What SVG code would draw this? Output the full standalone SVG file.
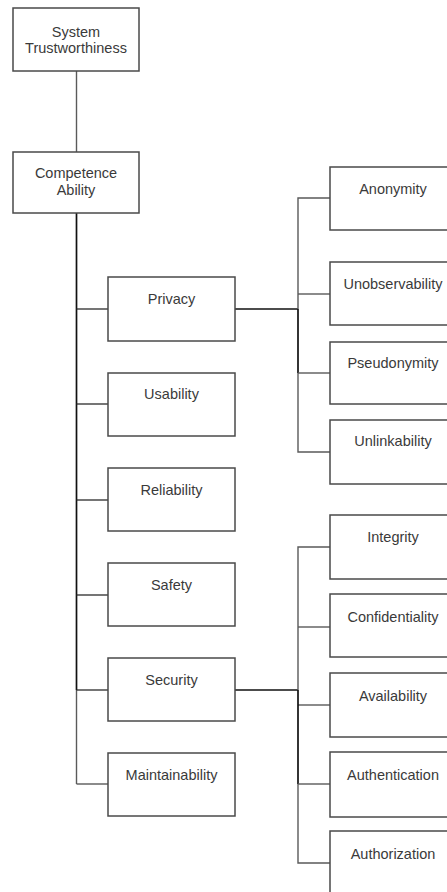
<svg xmlns="http://www.w3.org/2000/svg" width="447" height="892" viewBox="0 0 447 892">
<style>
.box{fill:#fff;stroke:#4a4a4a;stroke-width:1.5}
.t{font-family:"Liberation Sans",Arial,sans-serif;font-size:14.5px;fill:#3a3a3a;text-anchor:middle}
.c{fill:none;stroke:#5a5a5a;stroke-width:1.4}
.d{fill:none;stroke:#2a2a2a;stroke-width:1.3}
.h{fill:none;stroke:#111;stroke-width:1.7}
</style>
<rect width="447" height="892" fill="#fff"/>
<g id="connectors">
<line class="c" x1="76.5" y1="71" x2="76.5" y2="152"/>
<line class="c" x1="76.5" y1="690" x2="76.5" y2="784"/>
<line class="h" x1="76.5" y1="213" x2="76.5" y2="690"/>
<line class="d" x1="76.5" y1="309" x2="108" y2="309"/>
<line class="d" x1="76.5" y1="404" x2="108" y2="404"/>
<line class="d" x1="76.5" y1="500" x2="108" y2="500"/>
<line class="d" x1="76.5" y1="595" x2="108" y2="595"/>
<line class="d" x1="76.5" y1="690" x2="108" y2="690"/>
<line class="c" x1="76.5" y1="784" x2="108" y2="784"/>
<line class="h" x1="235" y1="309" x2="298" y2="309"/>
<polyline class="c" points="330,198 298,198 298,309"/>
<polyline class="c" points="330,452 298,452 298,373"/>
<line class="h" x1="298" y1="309" x2="298" y2="373"/>
<line class="c" x1="298" y1="294" x2="330" y2="294"/>
<line class="c" x1="298" y1="373" x2="330" y2="373"/>
<line class="h" x1="235" y1="690" x2="298" y2="690"/>
<polyline class="c" points="330,547 298,547 298,690"/>
<line class="c" x1="298" y1="627" x2="330" y2="627"/>
<line class="c" x1="298" y1="705" x2="330" y2="705"/>
<line class="h" x1="298" y1="690" x2="298" y2="784"/>
<line class="c" x1="298" y1="784" x2="330" y2="784"/>
<polyline class="c" points="298,784 298,863 330,863"/>
</g>
<g id="system-trustworthiness"><rect class="box" x="13" y="8" width="126" height="63"/><text class="t" x="76" y="37">System</text><text class="t" x="76" y="53">Trustworthiness</text></g>
<g id="competence-ability"><rect class="box" x="13" y="152" width="126" height="61"/><text class="t" x="76" y="178">Competence</text><text class="t" x="76" y="195">Ability</text></g>
<g id="privacy"><rect class="box" x="108" y="277" width="127" height="64"/><text class="t" x="171.5" y="304">Privacy</text></g>
<g id="usability"><rect class="box" x="108" y="373" width="127" height="63"/><text class="t" x="171.5" y="399">Usability</text></g>
<g id="reliability"><rect class="box" x="108" y="468" width="127" height="63"/><text class="t" x="171.5" y="495">Reliability</text></g>
<g id="safety"><rect class="box" x="108" y="563" width="127" height="63"/><text class="t" x="171.5" y="590">Safety</text></g>
<g id="security"><rect class="box" x="108" y="658" width="127" height="63"/><text class="t" x="171.5" y="685">Security</text></g>
<g id="maintainability"><rect class="box" x="108" y="753" width="127" height="63"/><text class="t" x="171.5" y="780">Maintainability</text></g>
<g id="anonymity"><rect class="box" x="330" y="167" width="127" height="63"/><text class="t" x="393" y="194">Anonymity</text></g>
<g id="unobservability"><rect class="box" x="330" y="262" width="127" height="63"/><text class="t" x="393" y="289">Unobservability</text></g>
<g id="pseudonymity"><rect class="box" x="330" y="342" width="127" height="62"/><text class="t" x="393" y="368">Pseudonymity</text></g>
<g id="unlinkability"><rect class="box" x="330" y="420" width="127" height="64"/><text class="t" x="393" y="446">Unlinkability</text></g>
<g id="integrity"><rect class="box" x="330" y="515" width="127" height="64"/><text class="t" x="393" y="542">Integrity</text></g>
<g id="confidentiality"><rect class="box" x="330" y="594" width="127" height="63"/><text class="t" x="393" y="622">Confidentiality</text></g>
<g id="availability"><rect class="box" x="330" y="673" width="127" height="64"/><text class="t" x="393" y="701">Availability</text></g>
<g id="authentication"><rect class="box" x="330" y="752" width="127" height="65"/><text class="t" x="393" y="780">Authentication</text></g>
<g id="authorization"><rect class="box" x="330" y="831" width="127" height="63"/><text class="t" x="393" y="859">Authorization</text></g>
</svg>
